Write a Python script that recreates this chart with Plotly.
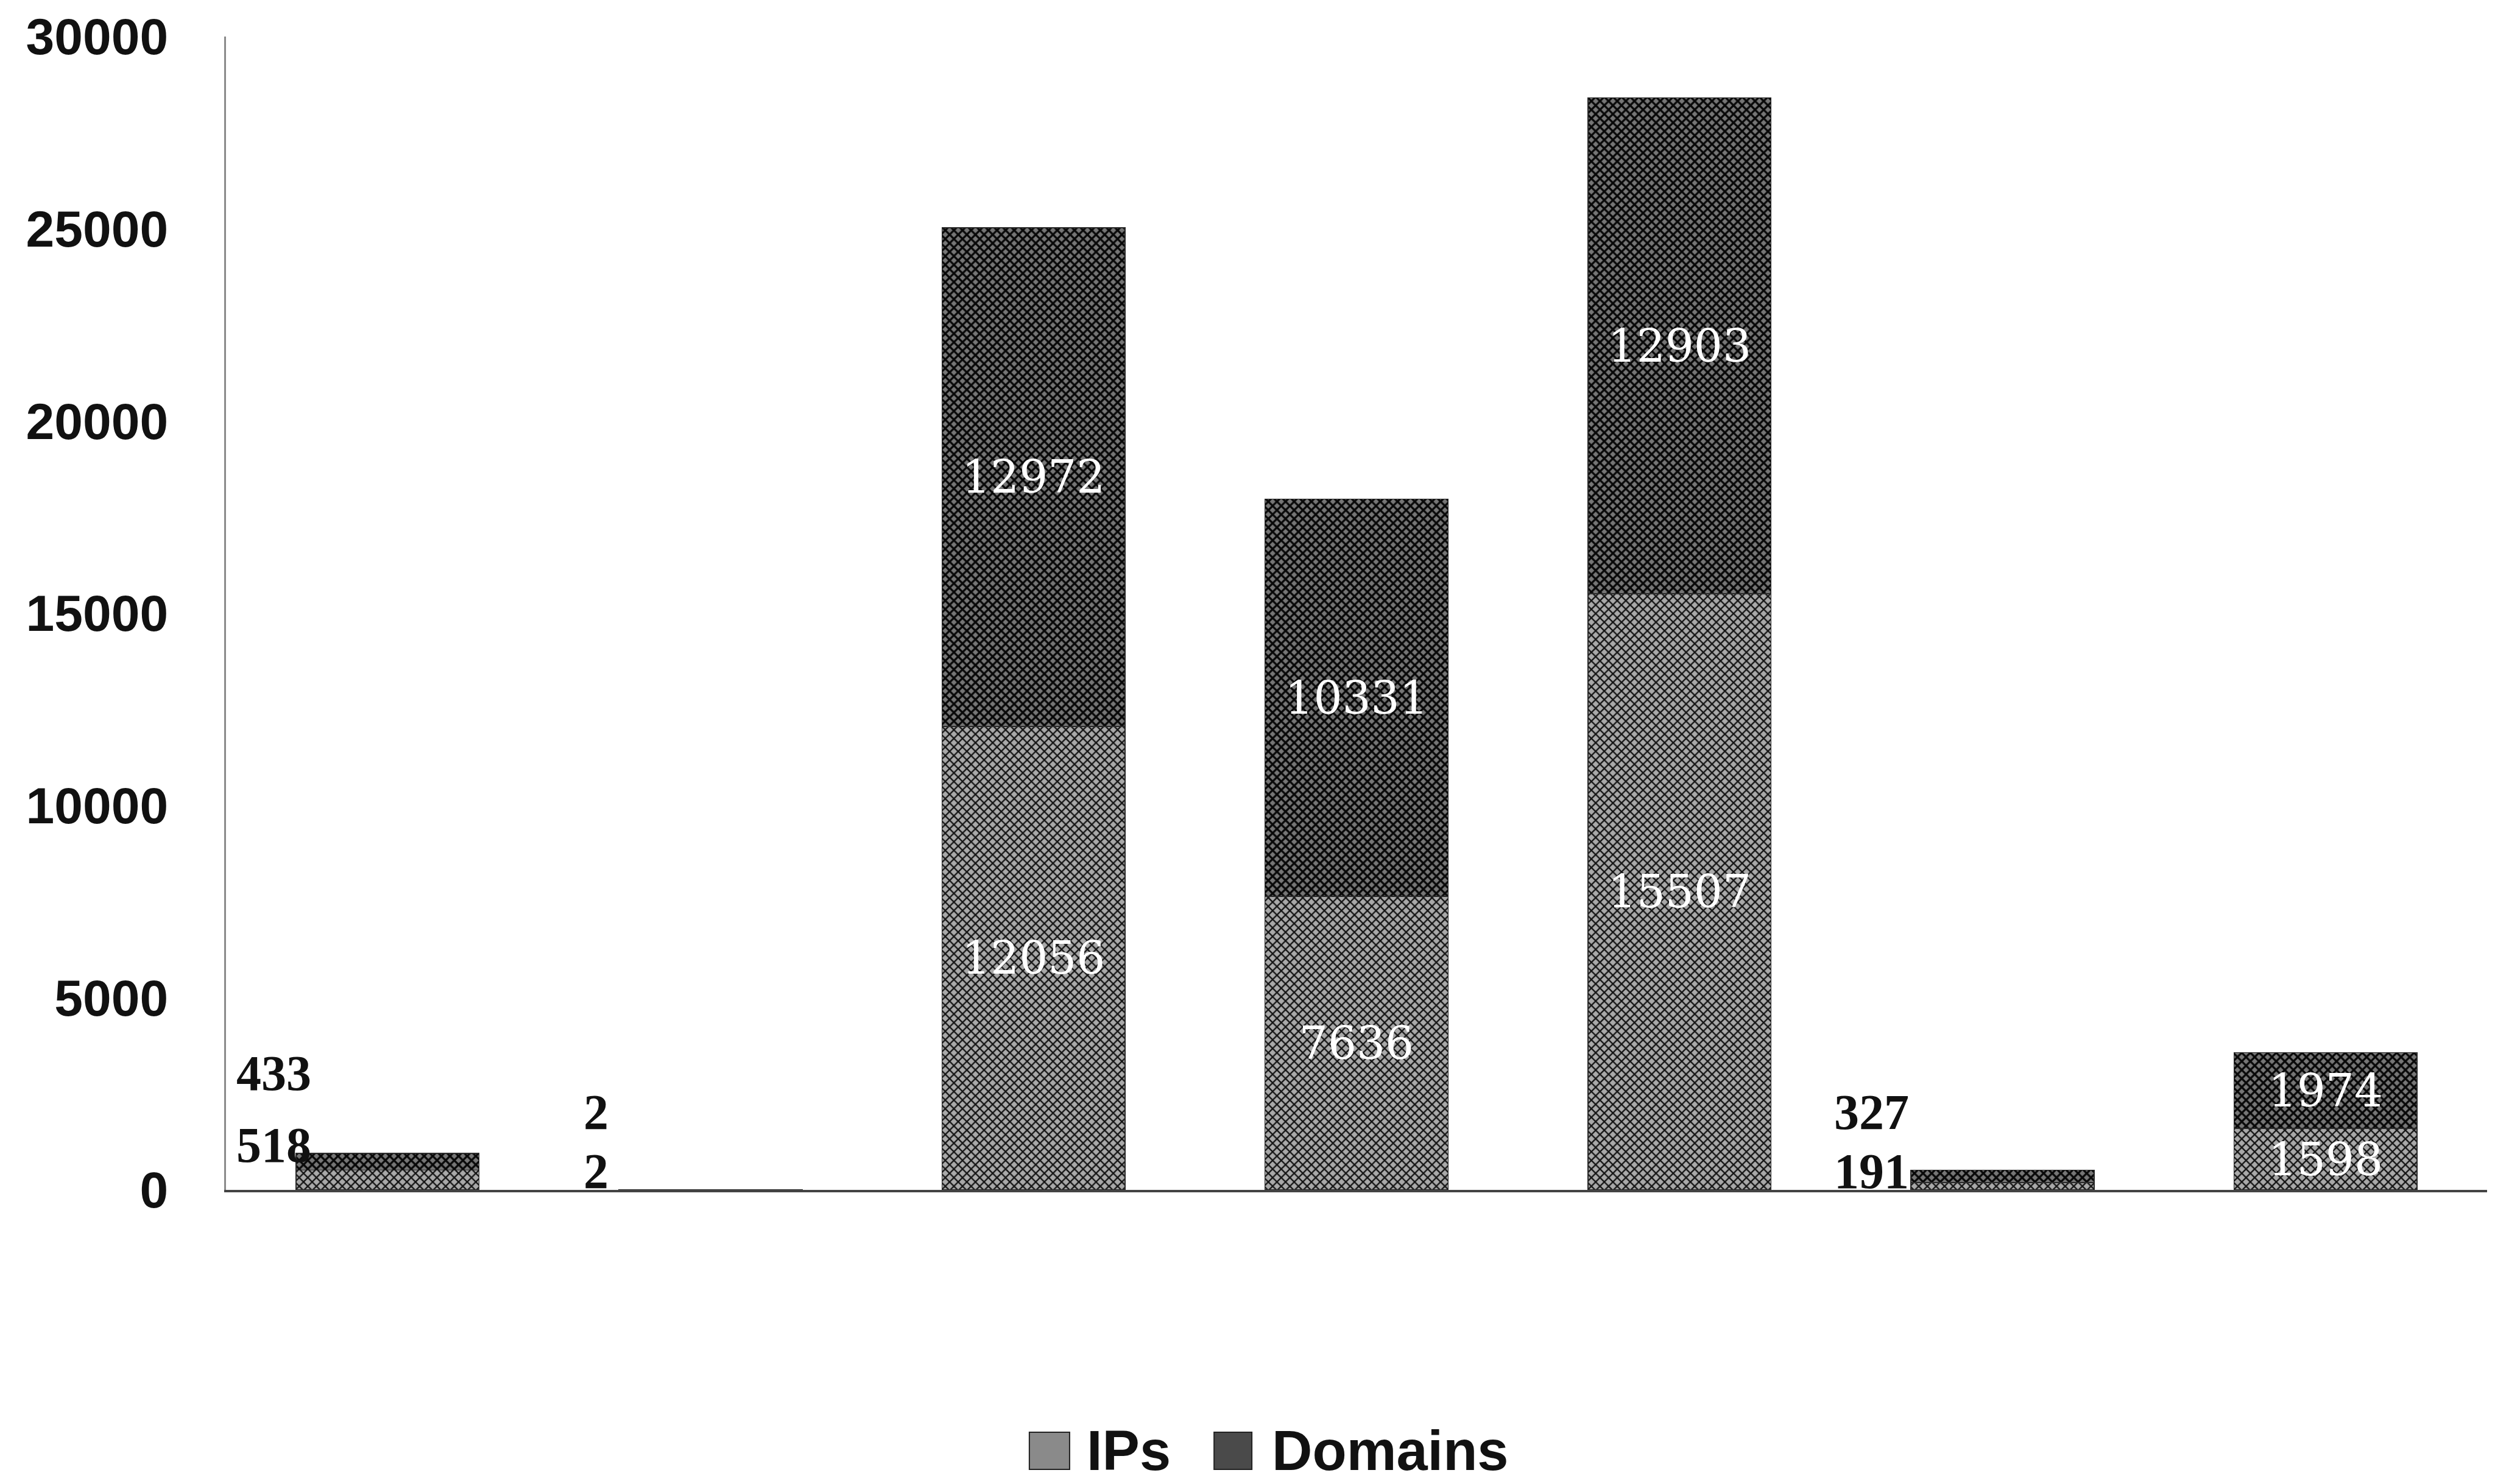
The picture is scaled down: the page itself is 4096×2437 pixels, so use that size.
import plotly.graph_objects as go

# ---- data -------------------------------------------------------------
categories = [1, 2, 3, 4, 5, 6, 7]
ips = [518, 2, 12056, 7636, 15507, 191, 1598]
domains = [433, 2, 12972, 10331, 12903, 327, 1974]
y_ticks = [0, 5000, 10000, 15000, 20000, 25000, 30000]
series_names = ["IPs", "Domains"]

# ---- styling ----------------------------------------------------------
IPS_BG, IPS_FG = "#a9a9a9", "#141414"
DOM_BG, DOM_FG = "#767676", "#080808"
IPS_SWATCH, DOM_SWATCH = "#8a8a8a", "#4a4a4a"
INSIDE_FONT = dict(family="DejaVu Serif", size=74, color="white")
OUTSIDE_FONT = dict(family="Liberation Serif", size=82, color="#111111")
AXIS_FONT = dict(family="Liberation Sans", size=84, color="#111111")
LEGEND_FONT = dict(family="Liberation Sans", size=92, color="#111111")
BIG = 1000  # segments at least this tall carry their value inside


def inside_text(values):
    return [str(v) if v >= BIG else "" for v in values]


fig = go.Figure()
for name, vals, bg, fg, sol in [
    (series_names[0], ips, IPS_BG, IPS_FG, 0.42),
    (series_names[1], domains, DOM_BG, DOM_FG, 0.55),
]:
    fig.add_trace(go.Bar(
        name=name,
        x=categories,
        y=vals,
        text=inside_text(vals),
        textposition="inside",
        insidetextanchor="middle",
        textangle=0,
        textfont=INSIDE_FONT,
        marker=dict(
            color=bg,
            line=dict(color="#2a2a2a", width=1.5),
            pattern=dict(shape="x", size=10, solidity=sol,
                         fgcolor=fg, bgcolor=bg, fillmode="replace"),
        ),
        hoverinfo="skip",
    ))

# values of the short bars sit to the left of the bar, stacked upwards
small_label_xshift = {1: -187, 2: -188, 6: -215}
small_label_yshift = {1: (74, 192), 2: (31, 128), 6: (31, 128)}
annotations = []
for i, c in enumerate(categories):
    if c not in small_label_xshift:
        continue
    for val, ys in zip((ips[i], domains[i]), small_label_yshift[c]):
        annotations.append(dict(
            x=c, y=0, xref="x", yref="y", text=str(val),
            showarrow=False, xanchor="center", yanchor="middle",
            xshift=small_label_xshift[c], yshift=ys,
            font=dict(OUTSIDE_FONT, weight="bold"),
        ))

# legend drawn below the plot: swatch + bold label
legend_items = [
    (series_names[0], IPS_SWATCH, 0.3553, 0.3731, 0.3800),
    (series_names[1], DOM_SWATCH, 0.4370, 0.4537, 0.4620),
]
shapes = []
for name, col, x0, x1, tx in legend_items:
    shapes.append(dict(type="rect", xref="paper", yref="paper",
                       x0=x0, x1=x1, y0=-0.2423, y1=-0.2101,
                       fillcolor=col, line=dict(color="#222222", width=2)))
    annotations.append(dict(
        x=tx, y=-0.226, xref="paper", yref="paper", text=name,
        showarrow=False, xanchor="left", yanchor="middle",
        font=dict(LEGEND_FONT, weight="bold"),
    ))

fig.update_layout(
    width=4096,
    height=2437,
    margin=dict(l=371, r=13, t=60, b=483, pad=0),
    paper_bgcolor="white",
    plot_bgcolor="white",
    barmode="stack",
    bargap=0.433,
    showlegend=False,
    uniformtext=dict(minsize=74, mode="show"),
    annotations=annotations,
    shapes=shapes,
    xaxis=dict(
        range=[0.5, 7.5],
        showticklabels=False,
        showgrid=False,
        zeroline=False,
        ticks="",
        showline=True,
        linecolor="#444444",
        linewidth=4,
    ),
    yaxis=dict(
        range=[0, 30000],
        tickvals=y_ticks,
        tickformat="d",
        showgrid=False,
        zeroline=False,
        ticks="",
        showline=True,
        linecolor="#8a8a8a",
        linewidth=3,
        ticklabelstandoff=75,
        tickfont=dict(AXIS_FONT, weight="bold"),
    ),
)

fig.write_html("out.html", post_script="document.body.style.margin='0';")
